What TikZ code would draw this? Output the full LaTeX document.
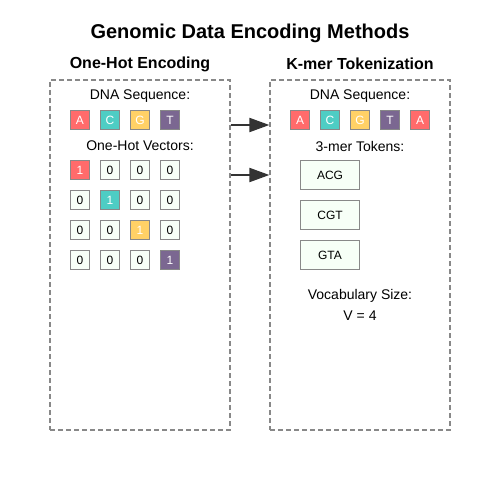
\documentclass[tikz,border=0pt]{standalone}
\usepackage{fontspec}
\setmainfont{Liberation Sans}
\usetikzlibrary{arrows.meta, positioning}

\definecolor{baseA}{HTML}{FF6B6B}
\definecolor{baseC}{HTML}{4ECDC4}
\definecolor{baseG}{HTML}{FFD166}
\definecolor{baseT}{HTML}{7B6791}
\definecolor{cellbg}{HTML}{F7FFF7}
\definecolor{edge}{HTML}{888888}
\definecolor{ink}{HTML}{333333}

\begin{document}
\begin{tikzpicture}[x=1pt, y=-1pt,
        panel/.style={rectangle, draw=edge, dashed, line width=1.2pt, dash pattern=on 5pt off 3pt, minimum width=180pt, minimum height=350pt, inner sep=0pt},
        base/.style={rectangle, draw=edge, line width=1pt, minimum size=19pt, inner sep=0pt, text=white, font=\fontsize{12}{12}\selectfont},
        cell/.style={base, fill=cellbg, text=black},
        token/.style={rectangle, draw=edge, line width=1pt, fill=cellbg, minimum width=59pt, minimum height=29pt, inner sep=0pt, font=\fontsize{12}{12}\selectfont},
        label/.style={font=\fontsize{14}{14}\selectfont},
        head/.style={font=\fontsize{16}{16}\selectfont\bfseries},
        arrow/.style={-{Triangle[length=20pt, width=14pt]}, line width=2pt, draw=ink, fill=ink}
    ]
        \useasboundingbox (0,0) rectangle (500,500);

        % titel
        \node[font=\fontsize{20}{20}\selectfont\bfseries] (title) at (250,33) {Genomic Data Encoding Methods};

        % One-hot
        \node[head] (ohhead) at (140,64) {One-Hot Encoding};
        \node[panel] (onehot) at (140,255) {};
        \node[label] (ohseq) at (140,96) {DNA Sequence:};
        \node[base, fill=baseA] (oA) at (80,120) {A};
        \node[base, fill=baseC] (oC) at (110,120) {C};
        \node[base, fill=baseG] (oG) at (140,120) {G};
        \node[base, fill=baseT] (oT) at (170,120) {T};
        \node[label] (ohvec) at (140,146) {One-Hot Vectors:};
        \foreach \r/\c in {1/baseA, 2/baseC, 3/baseG, 4/baseT} {
            \foreach \k in {1,...,4} {
                \ifnum\r=\k
                    \node[base, fill=\c] (v\r\k) at (50+30*\k,140+30*\r) {1};
                \else
                    \node[cell] (v\r\k) at (50+30*\k,140+30*\r) {0};
                \fi
            }
        }

        % K-mer
        \node[head] (kmhead) at (360,64) {K-mer Tokenization};
        \node[panel] (kmer) at (360,255) {};
        \node[label] (kmseq) at (360,96) {DNA Sequence:};
        \node[base, fill=baseA] (kA1) at (300,120) {A};
        \node[base, fill=baseC] (kC) at (330,120) {C};
        \node[base, fill=baseG] (kG) at (360,120) {G};
        \node[base, fill=baseT] (kT) at (390,120) {T};
        \node[base, fill=baseA] (kA2) at (420,120) {A};
        \node[label] (kmtok) at (360,146) {3-mer Tokens:};
        \node[token] (t1) at (330,175) {ACG};
        \node[token] (t2) at (330,215) {CGT};
        \node[token] (t3) at (330,255) {GTA};
        \node[label] (vocab) at (360,296) {Vocabulary Size:};
        \node[label] (vsize) at (360,316) {V = 4};

        % pijlen
        \draw[arrow] ([yshift=130pt]onehot.east) -- ([yshift=130pt]kmer.west);
        \draw[arrow] ([yshift=80pt]onehot.east) -- ([yshift=80pt]kmer.west);

    \end{tikzpicture}
\end{document}
